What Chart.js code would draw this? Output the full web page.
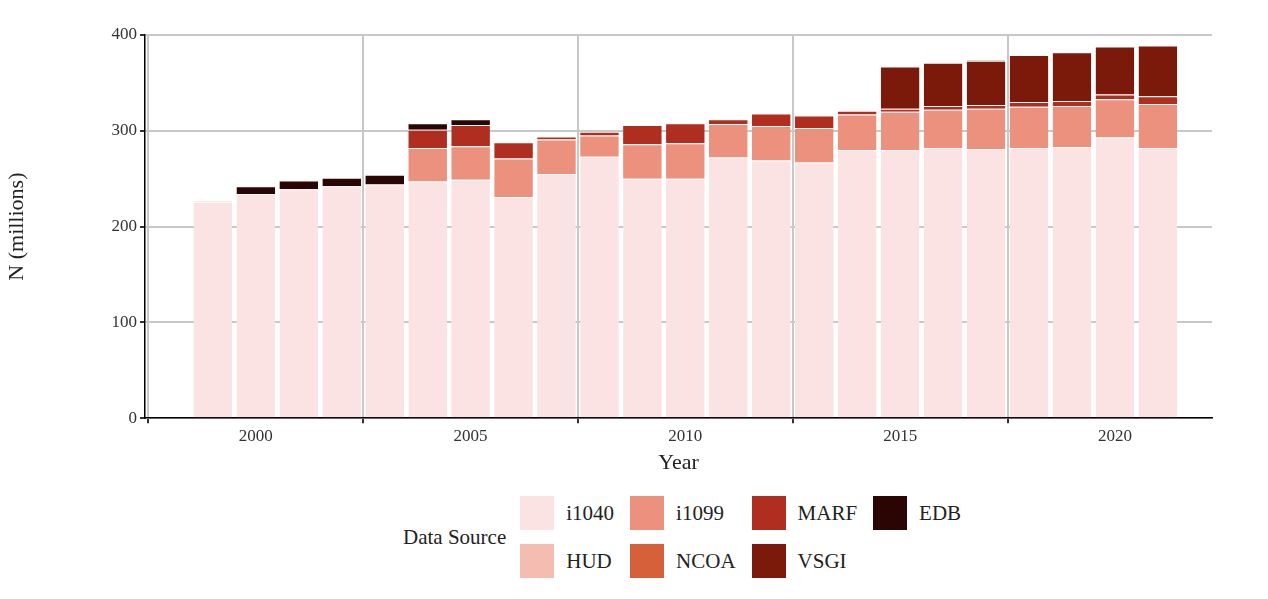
<!DOCTYPE html>
<html>
<head>
<meta charset="utf-8">
<script src="https://cdn.jsdelivr.net/npm/chart.js@4/dist/chart.umd.min.js"></script>
<style>
  body { margin: 0; background: #fff; font-family: "Liberation Serif", serif; }
  #wrap { position: relative; width: 1268px; height: 599px; }
  #c { position: absolute; left: 0; top: 0; }
  #legend { position: absolute; left: 403px; top: 496px; display: flex; align-items: center; font-size: 21px; color: #222; }
  #legend .title { margin-right: 14px; }
  #legend .grid { display: grid; grid-template-rows: 34px 34px; grid-auto-flow: column; grid-auto-columns: auto; row-gap: 14px; column-gap: 16px; }
  #legend .item { display: flex; align-items: center; }
  #legend .sw { width: 34px; height: 34px; margin-right: 12px; }
</style>
</head>
<body>
<div id="wrap">
  <canvas id="c" width="1268" height="480"></canvas>
  <div id="legend"></div>
</div>
<script>
const years = [1999,2000,2001,2002,2003,2004,2005,2006,2007,2008,2009,2010,2011,2012,2013,2014,2015,2016,2017,2018,2019,2020,2021];
const i1040 = [226,234,239,242,244,247,249,231,255,273,250,250,272,269,267,280,280,282,281,282,283,293,282];
const hud   = [1,0,0,0,0,0,0,0,0,0,0,0,0,0,0,0,0,0,0,0,0,0,0];
const i1099 = [0,0,0,0,0,35,35,40,36,22,36,37,35,36,36,37,40,40,42,43,43,40,46];
const ncoa  = [0,0,0,0,0,0,0,0,0,0,0,0,0,0,0,0,0,0,0,0,0,0,0];
const marf  = [0,0,0,0,0,19,22,17,3,4,20,21,5,13,13,4,3,4,4,5,5,5,8];
const vsgi  = [0,0,0,0,0,0,0,0,0,0,0,0,0,0,0,0,44,45,46,49,51,50,53];
const edb   = [0,8,9,9,10,7,6,0,0,0,0,0,0,0,0,0,0,0,1,0,0,0,0];
const yTicks = [0,100,200,300,400];

const series = [
  { label: "i1040", data: i1040, color: "#fae3e2" },
  { label: "HUD", data: hud, color: "#f4bdb2" },
  { label: "i1099", data: i1099, color: "#ed917f" },
  { label: "NCOA", data: ncoa, color: "#d6603a" },
  { label: "MARF", data: marf, color: "#b02e20" },
  { label: "VSGI", data: vsgi, color: "#7b190b" },
  { label: "EDB", data: edb, color: "#2b0404" },
];

const datasets = series.map((s) => ({
  label: s.label,
  data: years.map((y, i) => ({ x: y, y: s.data[i] })),
  backgroundColor: s.color,
  borderColor: "rgba(255,255,255,0.6)",
  borderWidth: { top: 1, left: 0, right: 0, bottom: 0 },
  borderSkipped: false,
  barPercentage: 0.9,
  categoryPercentage: 1,
}));

const dotted = "#c8c8c8";
new Chart(document.getElementById("c"), {
  type: "bar",
  data: { datasets },
  options: {
    responsive: false,
    animation: false,
    layout: { padding: { left: 0, right: 56, top: 35, bottom: 0 } },
    plugins: { legend: { display: false }, tooltip: { enabled: false } },
    scales: {
      x: {
        type: "linear", stacked: true, min: 1997.42, max: 2022.26, offset: false,
        afterBuildTicks: (ax) => { ax.ticks = [2000,2005,2010,2015,2020].map((v) => ({ value: v })); },
        ticks: { color: "#333", font: { family: "Liberation Serif", size: 17 }, callback: (v) => String(v) },
        grid: { color: dotted, lineWidth: 2, drawTicks: true, tickColor: "#333", tickLength: 5 },
        border: { display: true, color: "#000", width: 1.5, dash: [] },
        title: { display: true, text: "Year", color: "#222", font: { family: "Liberation Serif", size: 22 }, padding: { top: 0 } },
      },
      y: {
        stacked: true, min: 0, max: 400,
        afterBuildTicks: (ax) => { ax.ticks = yTicks.map((v) => ({ value: v })); },
        ticks: { color: "#333", font: { family: "Liberation Serif", size: 17 } },
        grid: { color: dotted, lineWidth: 2, tickColor: "#333", tickLength: 5 },
        border: { display: true, color: "#000", width: 1.5 },
        title: { display: true, text: "N (millions)", color: "#222", font: { family: "Liberation Serif", size: 22 } },
        afterFit: (ax) => { ax.width = 145; },
      },
    },
  },
  plugins: [{
    id: "dotgrid",
    beforeDraw: (chart) => {
      chart.options.scales.x.grid.borderDash = [2, 8];
    },
  }],
});

// dotted grid lines via scale option
Chart.defaults.font.family = "Liberation Serif";

const legend = document.getElementById("legend");
legend.innerHTML = '<div class="title">Data Source</div><div class="grid">' +
  series.map((s) => '<div class="item"><div class="sw" style="background:' + s.color + '"></div>' + s.label + '</div>').join("") +
  '</div>';
</script>
</body>
</html>
